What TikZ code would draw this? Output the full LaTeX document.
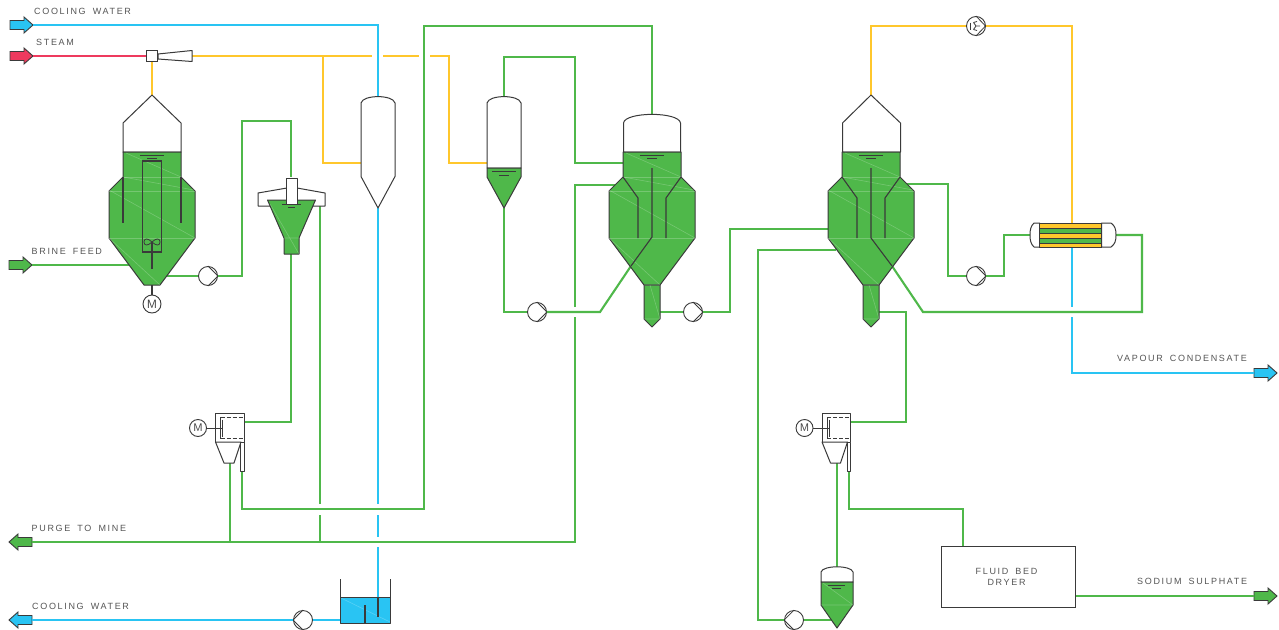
\documentclass[tikz,border=0pt]{standalone}
\usepackage{fontspec}
\newfontfamily\lblfont[LetterSpace=18.5,WordSpace=1.7]{Liberation Sans}
\definecolor{gr}{HTML}{4FB84A}
\definecolor{bl}{HTML}{29C4F3}
\definecolor{rd}{HTML}{EE3A5E}
\definecolor{yl}{HTML}{FFC72C}
\definecolor{ol}{HTML}{3A3A3A}
\definecolor{tx}{HTML}{555555}
\tikzset{
  pipeG/.style={draw=gr,line width=2.1pt},
  pipeB/.style={draw=bl,line width=2.1pt},
  pipeY/.style={draw=yl,line width=2.1pt},
  pipeR/.style={draw=rd,line width=2.1pt},
  vessel/.style={draw=ol,line width=1pt,line join=round},
  inner/.style={draw=ol,line width=1.1pt},
  thinl/.style={draw=ol,line width=0.8pt},
  facet/.style={draw=white,opacity=0.22,line width=0.6pt},
  rotary/.style={circle,draw=ol,line width=0.9pt,fill=white,minimum size=19pt,inner sep=0pt},
  motorn/.style={circle,draw=ol,line width=0.9pt,fill=white,minimum size=18pt,inner sep=0pt,font=\fontsize{12}{12}\sffamily,text=ol},
  lbl/.style={inner sep=0pt,anchor=west,text=tx,font=\lblfont\fontsize{9}{11}\selectfont}
}
% flow arrow: name, tail x, y, direction, colour
\newcommand\FlowArrow[5]{%
  \begin{scope}[shift={(#2,#3)},xscale=#4]
    \draw[fill=#5,draw=ol,line width=0.9pt,line join=miter] (0,-4.5)--(14,-4.5)--(14,-8)--(23,0)--(14,8)--(14,4.5)--(0,4.5)--cycle;
    \coordinate (#1-tail) at (0,0);
    \coordinate (#1-tip) at (23,0);
  \end{scope}}
% pump: name, x, y, direction
\newcommand\PumpR[3]{%
  \node[rotary] (#1) at (#2,#3) {};
  \draw[thinl] (#1.north)--(#1.east)--(#1.south);}
\newcommand\PumpL[3]{%
  \node[rotary] (#1) at (#2,#3) {};
  \draw[thinl] (#1.north)--(#1.west)--(#1.south);}
% facets of a crystalliser body
\newcommand\CrystBody[1]{%
  \begin{scope}[shift={(#1,0)}]
    \draw[vessel,fill=gr] (-29,152)--(-29,177)--(-43,191)--(-43,238)--(-8,285)--(8,285)--(43,238)--(43,191)--(29,177)--(29,152)--cycle;
    \draw[facet] (-29,177)--(29,177) (-43,191)--(43,191) (-43,238)--(43,238);
    \draw[facet] (-26,153)--(29,177) (-29,177)--(42,190) (-43,190)--(43,238) (-43,238)--(8,285);
    \draw[thinl,line width=1pt] (-12,155.5)--(12,155.5);
    \draw[thinl,line width=1pt] (-5,158.5)--(5,158.5);
  \end{scope}}
\begin{document}
\begin{tikzpicture}[x=1pt,y=-1pt]
\clip (0,0) rectangle (1279,629);
\fill[white] (0,0) rectangle (1279,629);

%% named ports
\coordinate (sepA-top) at (378,97);
\coordinate (sepA-bot) at (378,208);
\coordinate (sepA-in) at (361,163);
\coordinate (sepB-top) at (504,97);
\coordinate (sepB-bot) at (504,208);
\coordinate (sepB-in) at (487,163);
\coordinate (gA1) at (378,504);
\coordinate (gA2) at (378,515);
\coordinate (gA3) at (378,537);
\coordinate (gA4) at (378,547);
\coordinate (tank-in) at (378,617);
\coordinate (tank-out) at (341,620);
\coordinate (dif-out) at (192,56);
\coordinate (y1) at (372,56);
\coordinate (y2) at (383,56);
\coordinate (y3) at (419,56);
\coordinate (y4) at (430,56);
\coordinate (yb) at (449,163);
\coordinate (jy) at (323,56);
\coordinate (cr1-apex) at (152,95);
\coordinate (cr1-feed) at (129,265);
\coordinate (cr1-out) at (166,276);
\coordinate (n1) at (242,121);
\coordinate (th-top) at (291,177);
\coordinate (th-bot) at (291,254);
\coordinate (th-side) at (320,206);
\coordinate (f1-out) at (244,422);
\coordinate (f1-bot) at (230,463);
\coordinate (f1-tube) at (242,471);
\coordinate (g1) at (320,504);
\coordinate (g2) at (320,515);
\coordinate (pj1) at (230,542);
\coordinate (pj2) at (320,542);
\coordinate (h1) at (575,307);
\coordinate (h2) at (575,317);
\coordinate (cr2-side) at (615,185);
\coordinate (m1) at (424,509);
\coordinate (m2) at (652,26);
\coordinate (cr2-top) at (652,115);
\coordinate (n3) at (575,57);
\coordinate (cr2-in) at (623,163);
\coordinate (n4) at (600,312);
\coordinate (cr2-tube) at (631,266);
\coordinate (cr2-tail) at (660,312);
\coordinate (n5) at (730,229);
\coordinate (cr3-in) at (828,229);
\coordinate (cr3-feed) at (836,250);
\coordinate (n6) at (758,620);
\coordinate (tk-side) at (832,620);
\coordinate (cr3-tail) at (879,312);
\coordinate (n7) at (906,422);
\coordinate (f2-out) at (851,422);
\coordinate (f2-bot) at (837,463);
\coordinate (tk-top) at (837,567);
\coordinate (f2-tube) at (849,471);
\coordinate (n8) at (963,509);
\coordinate (cr3-r) at (900,184);
\coordinate (n9) at (948,276);
\coordinate (n10) at (1004,235);
\coordinate (hx-l) at (1030,235);
\coordinate (hx-r) at (1116,235);
\coordinate (cr3-tube) at (892,266);
\coordinate (n11) at (923,312);
\coordinate (n12) at (1142,235);
\coordinate (cr3-apex) at (871,95);
\coordinate (hx-t) at (1072,223);
\coordinate (hx-b) at (1072,247);
\coordinate (b1) at (1072,307);
\coordinate (b2) at (1072,317);

%% flow arrows
\FlowArrow{cwin}{10}{25}{1}{bl}
\FlowArrow{st}{10}{56}{1}{rd}
\FlowArrow{bf}{9}{265}{1}{gr}
\FlowArrow{pu}{32}{542}{-1}{gr}
\FlowArrow{cwout}{32}{620}{-1}{bl}
\FlowArrow{vc}{1254}{373}{1}{bl}
\FlowArrow{ss}{1254}{596}{1}{gr}

%% rotating machines
\PumpR{p1}{208}{276}
\PumpR{p2}{537}{312}
\PumpR{p3}{693}{312}
\PumpR{p4}{976}{276}
\PumpL{p5}{794}{620}
\PumpL{p6}{303}{620}
\node[rotary] (comp) at (976,26) {};
\node[draw=ol,line width=0.9pt,fill=white,minimum width=134pt,minimum height=61pt,inner sep=0pt] (dry) at (1008.5,577) {};
\node[inner sep=0pt,align=center,text=tx,font=\lblfont\fontsize{9}{11}\selectfont] (drytext) at (1006.5,577) {FLUID BED\\DRYER};
\node[inner sep=0pt,minimum size=11.5pt,draw=ol,line width=1pt,fill=white] (ej) at (152,56) {};

%% pipes
\draw[pipeB] (cwin-tip) -| (sepA-top);
\draw[pipeB] (sepA-bot) -- (gA1);
\draw[pipeB] (gA2) -- (gA3);
\draw[pipeB] (gA4) -- (tank-in);
\draw[pipeB] (tank-out) -- (p6);
\draw[pipeB] (p6) -- (cwout-tail);
\draw[pipeB] (hx-b) -- (b1);
\draw[pipeB] (b2) |- (vc-tail);

\draw[pipeR] (st-tip) -- (ej);
\draw[pipeY] (dif-out) -- (y1);
\draw[pipeY] (y2) -- (y3);
\draw[pipeY] (y4) -| (yb) -- (sepB-in);
\draw[pipeY] (jy) |- (sepA-in);
\draw[pipeY] (ej) -- (cr1-apex);
\draw[pipeY] (cr3-apex) |- (comp);
\draw[pipeY] (comp) -| (hx-t);

\draw[pipeG] (bf-tip) -- (cr1-feed);
\draw[pipeG] (cr1-out) -- (p1);
\draw[pipeG] (p1) -| (n1) -| (th-top);
\draw[pipeG] (th-bot) |- (f1-out);
\draw[pipeG] (th-side) -- (g1);
\draw[pipeG] (g2) -- (pj2);
\draw[pipeG] (f1-bot) -- (pj1);
\draw[pipeG] (pu-tail) -| (h2);
\draw[pipeG] (h1) |- (cr2-side);
\draw[pipeG] (f1-tube) |- (m1) |- (m2) -- (cr2-top);
\draw[pipeG] (sepB-top) |- (n3) |- (cr2-in);
\draw[pipeG] (sepB-bot) |- (p2);
\draw[pipeG,line join=miter] (p2) -- (n4) -- (cr2-tube);
\draw[pipeG] (cr2-tail) -- (p3);
\draw[pipeG] (p3) -| (n5) -- (cr3-in);
\draw[pipeG] (cr3-feed) -| (n6) -- (p5);
\draw[pipeG] (p5) -- (tk-side);
\draw[pipeG] (cr3-tail) -| (n7) -- (f2-out);
\draw[pipeG] (f2-bot) -- (tk-top);
\draw[pipeG] (f2-tube) |- (n8) -- (n8 |- dry.north);
\draw[pipeG] (dry.east |- ss-tail) -- (ss-tail);
\draw[pipeG] (cr3-r) -| (n9) -- (p4);
\draw[pipeG] (p4) -| (n10) -- (hx-l);
\draw[pipeG] (cr3-tube) -- (n11) -| (n12) -- (hx-r);

%% ejector diffuser
\draw[vessel,fill=white] (158,54)--(192,50.5)--(192,61.5)--(158,59)--cycle;

%% crystalliser 1
\draw[vessel,fill=white] (152,95)--(123,123)--(123,152)--(181,152)--(181,123)--cycle;
\CrystBody{152}
\begin{scope}[shift={(152,0)}]
  \draw[inner] (-29,177)--(-29,223) (29,177)--(29,223);
  \draw[inner] (-9.5,161) rectangle (9.5,252);
  \draw[inner] (0,242)--(0,269);
  \draw[thinl] (0,242) .. controls (-4,238) and (-8,238) .. (-8,242) .. controls (-8,246) and (-4,246) .. (0,242)
               .. controls (4,238) and (8,238) .. (8,242) .. controls (8,246) and (4,246) .. (0,242);
\end{scope}
\node[motorn] (m-a) at (152,304) {M};
\draw[inner] (152,285) -- (m-a);

%% crystalliser 2
\draw[vessel,fill=white] (623.5,152)--(623.5,123) .. controls (625,111.5) and (679,111.5) .. (680.5,123)--(680.5,152)--cycle;
\CrystBody{652}
\begin{scope}[shift={(652,0)}]
  \draw[vessel,fill=gr] (-8,285)--(-8,319)--(0,327)--(8,319)--(8,285)--cycle;
  \draw[facet] (-8,285)--(8,285) (-8,319)--(8,319) (-2,285)--(8,319);
  \draw[inner] (-29,177)--(-14,198)--(-14,238) (29,177)--(14,198)--(14,238);
  \draw[inner] (0,168)--(0,237)--(-21,266);
\end{scope}

%% crystalliser 3
\draw[vessel,fill=white] (871,95)--(842.5,123)--(842.5,152)--(900.5,152)--(900.5,123)--cycle;
\CrystBody{871}
\begin{scope}[shift={(871,0)}]
  \draw[vessel,fill=gr] (-8,285)--(-8,319)--(0,327)--(8,319)--(8,285)--cycle;
  \draw[facet] (-8,285)--(8,285) (-8,319)--(8,319) (-2,285)--(8,319);
  \draw[inner] (-29,177)--(-14,198)--(-14,238) (29,177)--(14,198)--(14,238);
  \draw[inner] (0,168)--(0,238)--(21,266);
\end{scope}

%% separators
\draw[vessel,fill=white] (361,176.5)--(361,103) .. controls (363,94.5) and (393,94.5) .. (395,103)--(395,176.5)--(378,208)--cycle;
\draw[vessel,fill=white] (487,168)--(487,103) .. controls (489,94.5) and (519,94.5) .. (521,103)--(521,168)--cycle;
\draw[vessel,fill=gr] (487,168)--(487,177)--(504,208)--(521,177)--(521,168)--cycle;
\draw[thinl,line width=1pt] (492,171)--(516,171) (499,175)--(509,175);

%% thickener
\draw[vessel,fill=white] (258,206)--(258,193)--(287,188)--(297,188)--(325,193)--(325,206)--cycle;
\draw[vessel,fill=gr] (267.5,200)--(284,238)--(284,254)--(299,254)--(299,238)--(315.5,200)--cycle;
\draw[facet] (284,238)--(299,238) (270,204)--(299,254);
\fill[white] (287,178) rectangle (296.5,204);
\draw[vessel] (286.5,204)--(286.5,178)--(297,178)--(297,204);
\draw[thinl,line width=1pt] (282,204.5)--(301,204.5);
\draw[thinl,line width=1pt] (288,207.5)--(295,207.5);

%% centrifuges
\foreach \dx/\mname in {0/m-b,606.5/m-c}{
\begin{scope}[shift={(\dx,0)}]
  \draw[vessel,fill=white] (215.5,413.5) rectangle (244,442);
  \draw[vessel,fill=white] (215.5,442)--(224,463)--(234,463)--(241,442)--cycle;
  \draw[vessel,fill=white] (240.5,442) rectangle (244,471);
  \draw[thinl,dash pattern=on 4pt off 2pt] (220.5,417)--(242.5,417) (220.5,438.5)--(242.5,438.5);
  \draw[thinl] (220.5,417)--(220.5,438.5);
  \draw[thinl] (222.5,419.5)--(222.5,436.5);
  \node[motorn,minimum size=17pt,font=\fontsize{11}{11}\sffamily] (\mname) at (198,428) {M};
  \draw[thinl] (\mname) -- (222.5,428);
\end{scope}}

%% small crystal tank
\draw[vessel,fill=white] (821,582)--(821,572) .. controls (823,565) and (851,565) .. (853,572)--(853,582)--cycle;
\draw[vessel,fill=gr] (821,582)--(821,605)--(837,628)--(853,605)--(853,582)--cycle;
\draw[facet] (821,605)--(853,605) (823,583)--(853,605);
\draw[thinl,line width=1pt] (828,585)--(845,585) (832,588)--(841,588);

%% feed tank
\fill[bl] (340.5,597) rectangle (390.5,623);
\draw[facet] (341,598)--(390,622);
\draw[vessel] (340.5,579)--(340.5,623)--(390.5,623)--(390.5,579);
\draw[vessel] (340.5,597)--(390.5,597);
\draw[inner] (365,605)--(365,623) (378,597)--(378,617);

%% condenser
\draw[vessel,fill=white] (1039.5,223)--(1034,223) .. controls (1031,226) and (1030,229) .. (1030,235) .. controls (1030,241) and (1031,244) .. (1034,247)--(1039.5,247)--cycle;
\draw[vessel,fill=white] (1101.5,223)--(1111,223) .. controls (1115,226) and (1116,229) .. (1116,235) .. controls (1116,241) and (1115,244) .. (1111,247)--(1101.5,247)--cycle;
\fill[yl] (1039.5,223) rectangle (1101.5,247);
\fill[gr] (1039.5,228) rectangle (1101.5,233);
\fill[gr] (1039.5,238) rectangle (1101.5,243);
\draw[thinl,line width=0.9pt] (1039.5,223) rectangle (1101.5,247);
\draw[thinl,line width=0.9pt] (1039.5,228)--(1101.5,228) (1039.5,233)--(1101.5,233) (1039.5,238)--(1101.5,238) (1039.5,243)--(1101.5,243);

%% compressor symbol
\draw[thinl] (comp.north)--(985.5,26)--(comp.south);
\draw[thinl] (970.5,22.5)--(970.5,29.5);
\draw[thinl] (976,26)--(980,26) (976,26)--(973.5,22.5) (976,26)--(973.5,29.5);
\draw[thinl] (973.5,22.5)--(977,21.5) (973.5,29.5)--(977,30.5);

%% labels
\node[lbl] (t1) at (34,11) {COOLING WATER};
\node[lbl] (t2) at (36,42) {STEAM};
\node[lbl] (t3) at (31.5,251) {BRINE FEED};
\node[lbl] (t4) at (31.5,528) {PURGE TO MINE};
\node[lbl] (t5) at (32,606) {COOLING WATER};
\node[lbl] (t6) at (1117,358.5) {VAPOUR CONDENSATE};
\node[lbl] (t7) at (1137,581.5) {SODIUM SULPHATE};
\end{tikzpicture}
\end{document}
